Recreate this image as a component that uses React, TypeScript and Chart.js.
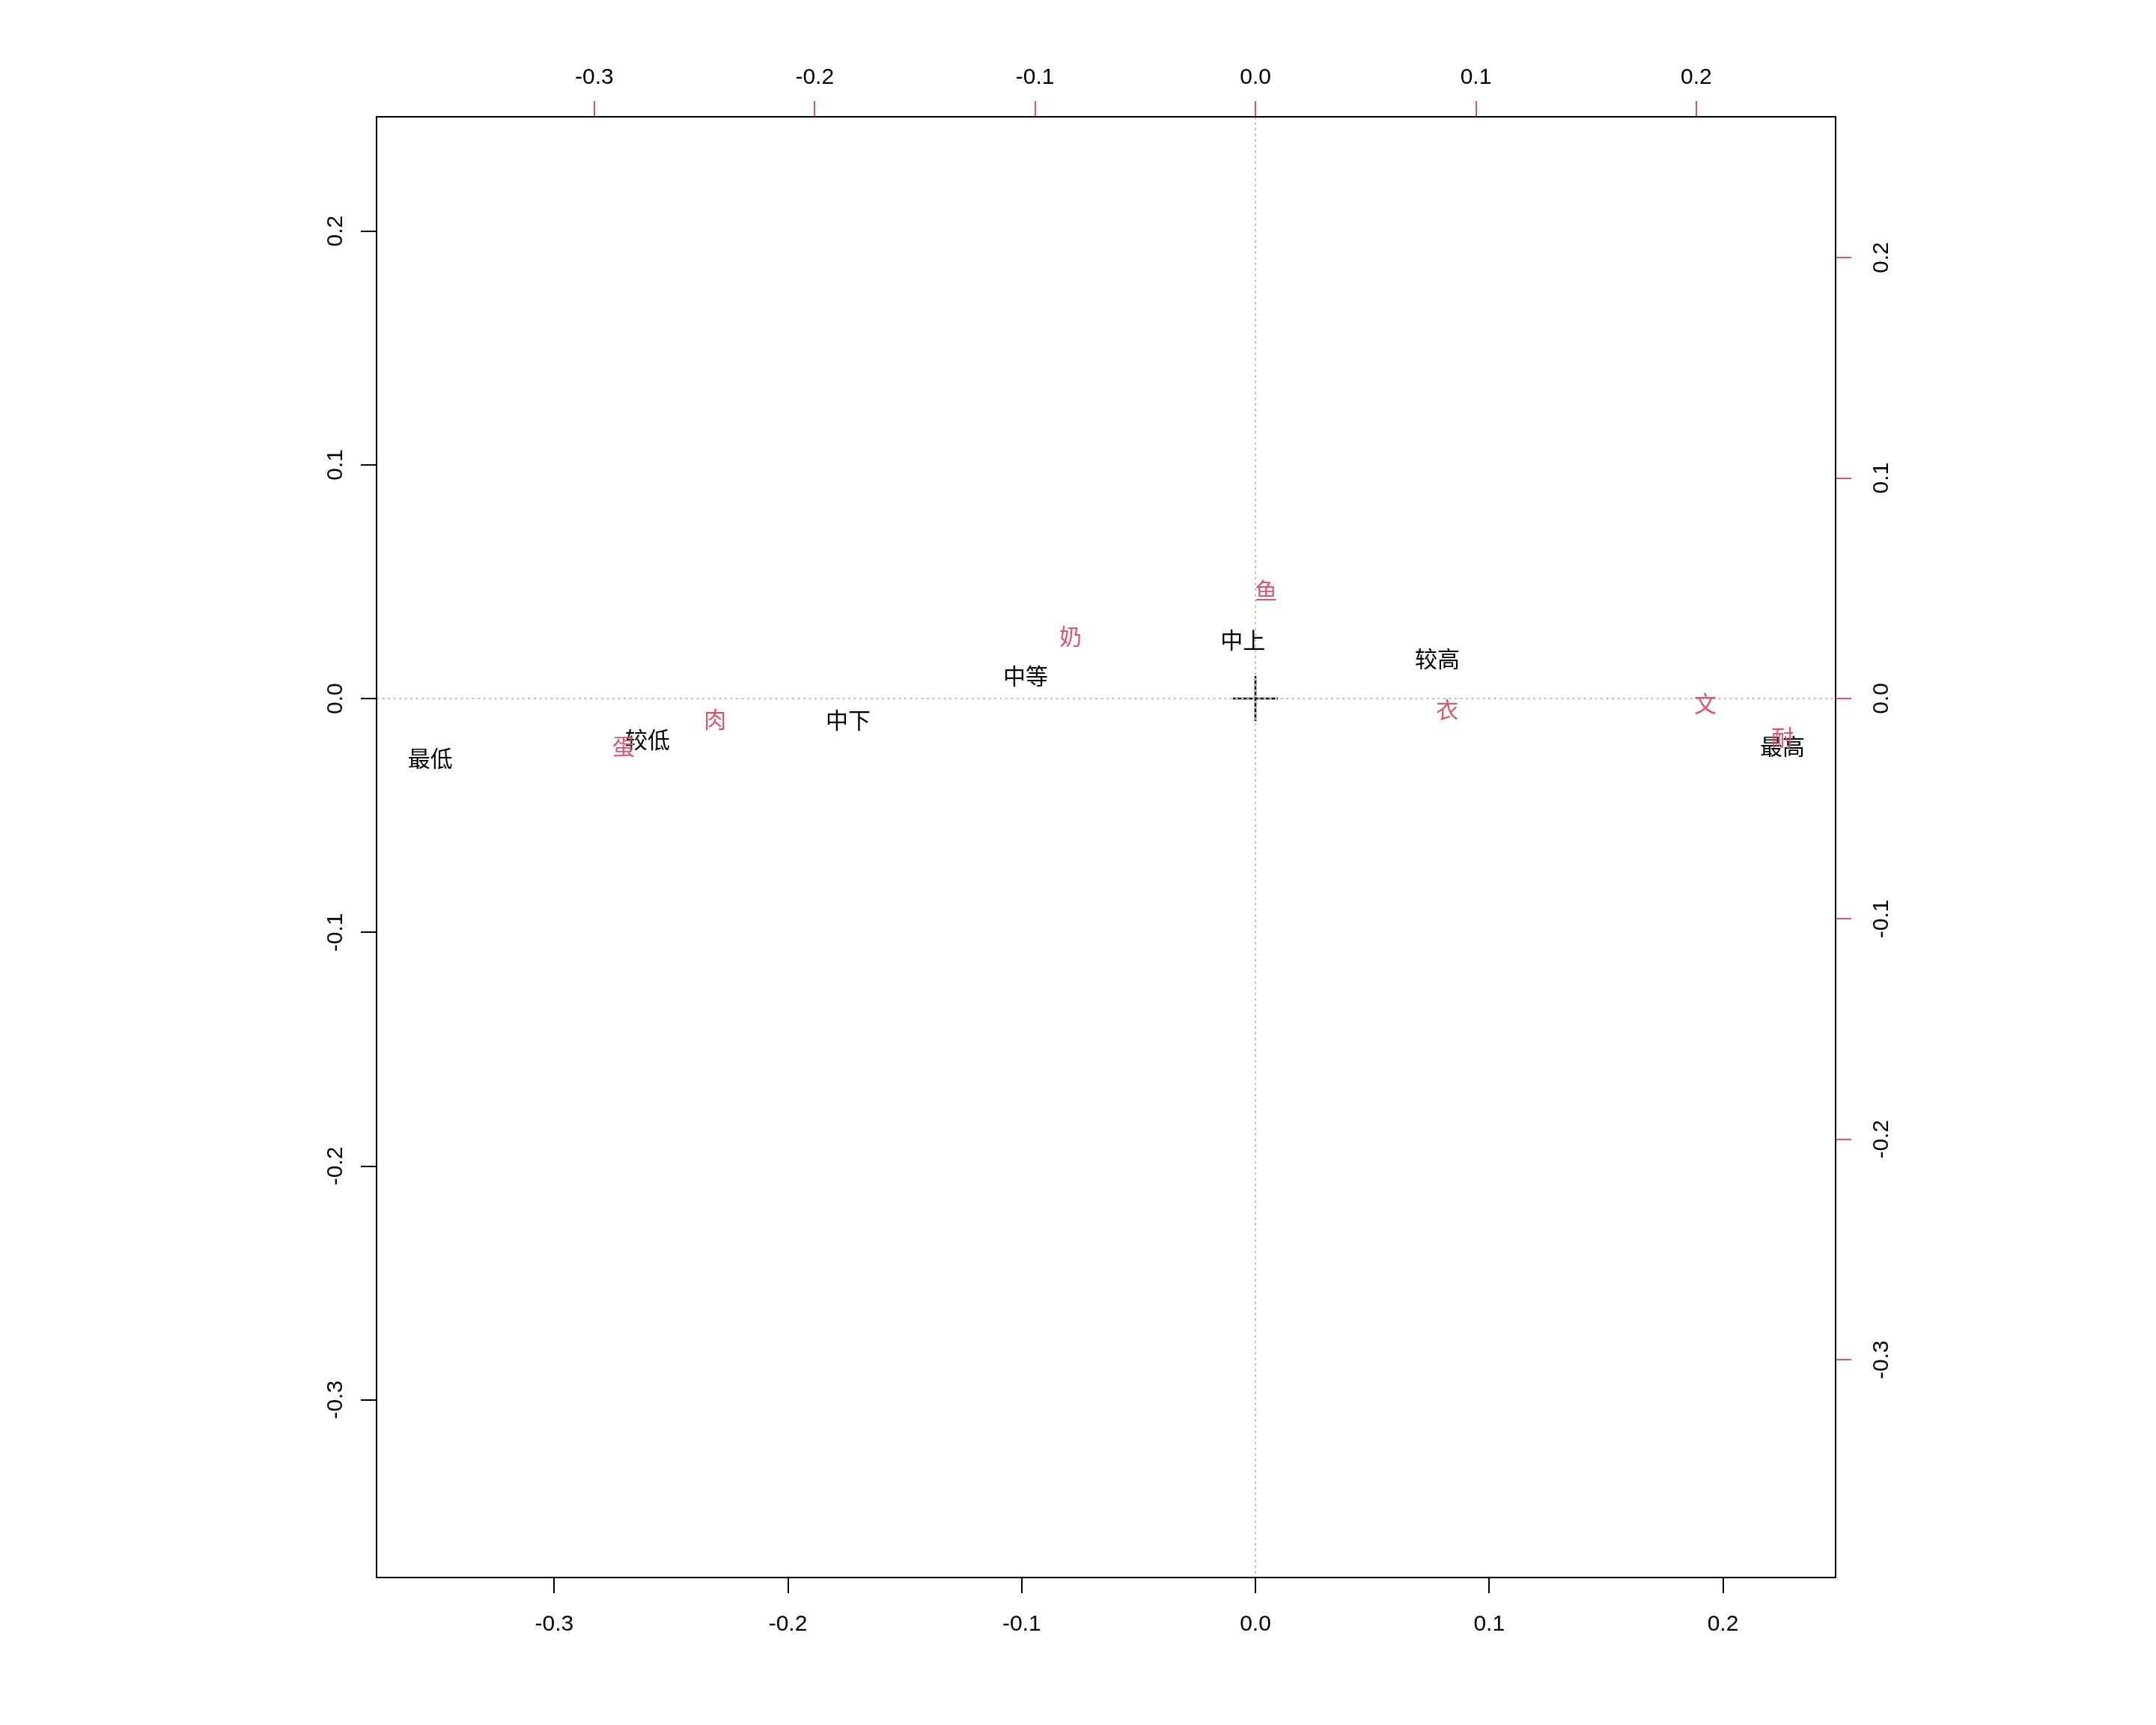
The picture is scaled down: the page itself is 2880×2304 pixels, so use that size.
import { useEffect, useRef } from "react";
import { Chart, registerables } from "chart.js";

Chart.register(...registerables);

// Row points (black) on the bottom/left axes
const rowLabels = ["最低", "较低", "中下", "中等", "中上", "较高", "最高"];
const rowX = [-0.353, -0.2601, -0.1742, -0.0983, -0.0054, 0.0778, 0.2255];
const rowY = [-0.0256, -0.0176, -0.009, 0.0099, 0.0253, 0.017, -0.0205];

// Column points (red) on the top/right axes
const colLabels = ["鱼", "奶", "肉", "蛋", "衣", "文", "耐"];
const colX = [0.0048, -0.0839, -0.2452, -0.2867, 0.087, 0.2041, 0.2391];
const colY = [0.0489, 0.0282, -0.0095, -0.0217, -0.0051, -0.0024, -0.0177];

// Tick values
const tickValues = [-0.3, -0.2, -0.1, 0.0, 0.1, 0.2];

// Axis ranges
const primaryX = [-0.376, 0.2482];
const primaryY = [-0.376, 0.2489];
const secondaryX = [-0.3988, 0.2632];
const secondaryY = [-0.3988, 0.2639];

const RED = "#DF536B";
const TICK_FONT = '30px "Liberation Sans", Arial, sans-serif';
const LABEL_FONT = '30px "Noto Sans CJK SC", sans-serif';

const fmt = (v: number) => (Math.abs(v) < 1e-9 ? "0.0" : v.toFixed(1));

const setTicks = (scale: any) => {
  scale.ticks = tickValues.map((v) => ({ value: v }));
};

const labelPlugin = {
  id: "caLabels",
  afterDatasetsDraw(chart: any) {
    const ctx = chart.ctx;
    const area = chart.chartArea;
    const xs = chart.scales.x;
    const ys = chart.scales.y;
    // reference lines at 0 (gray dotted)
    ctx.save();
    ctx.beginPath();
    ctx.rect(area.left, area.top, area.right - area.left, area.bottom - area.top);
    ctx.clip();
    ctx.strokeStyle = "#BEBEBE";
    ctx.lineWidth = 2;
    ctx.setLineDash([3, 4.5]);
    const x0 = xs.getPixelForValue(0);
    const y0 = ys.getPixelForValue(0);
    ctx.beginPath();
    ctx.moveTo(x0, area.top);
    ctx.lineTo(x0, area.bottom);
    ctx.moveTo(area.left, y0);
    ctx.lineTo(area.right, y0);
    ctx.stroke();
    ctx.setLineDash([]);

    // text labels placed at the library's point elements
    ctx.font = LABEL_FONT;
    ctx.textAlign = "center";
    ctx.textBaseline = "middle";
    const rowMeta = chart.getDatasetMeta(0);
    rowMeta.data.forEach((el: any, i: number) => {
      ctx.fillStyle = "#000000";
      ctx.fillText(rowLabels[i], el.x, el.y);
    });
    const colMeta = chart.getDatasetMeta(1);
    colMeta.data.forEach((el: any, i: number) => {
      ctx.fillStyle = RED;
      ctx.fillText(colLabels[i], el.x, el.y);
    });
    ctx.restore();
  },
  afterDraw(chart: any) {
    const ctx = chart.ctx;
    const area = chart.chartArea;
    ctx.save();
    // box
    ctx.strokeStyle = "#000000";
    ctx.lineWidth = 2;
    ctx.strokeRect(area.left, area.top, area.right - area.left, area.bottom - area.top);

    ctx.fillStyle = "#000000";
    ctx.font = TICK_FONT;
    ctx.textAlign = "center";
    ctx.textBaseline = "alphabetic";
    const off = 10.7;
    const { x, y, x2, y2 } = chart.scales;
    x.ticks.forEach((t: any) => {
      ctx.fillText(fmt(t.value), x.getPixelForValue(t.value), area.bottom + 60 + off);
    });
    x2.ticks.forEach((t: any) => {
      ctx.fillText(fmt(t.value), x2.getPixelForValue(t.value), area.top - 55 + off);
    });
    y.ticks.forEach((t: any) => {
      ctx.save();
      ctx.translate(area.left - 57, y.getPixelForValue(t.value));
      ctx.rotate(-Math.PI / 2);
      ctx.fillText(fmt(t.value), 0, off);
      ctx.restore();
    });
    y2.ticks.forEach((t: any) => {
      ctx.save();
      ctx.translate(area.right + 59, y2.getPixelForValue(t.value));
      ctx.rotate(-Math.PI / 2);
      ctx.fillText(fmt(t.value), 0, off);
      ctx.restore();
    });
    ctx.restore();
  },
};

export default function App() {
  const canvasRef = useRef<HTMLCanvasElement | null>(null);

  useEffect(() => {
    const canvas = canvasRef.current;
    if (!canvas) return;
    const gridOpts = (color: string) => ({
      display: true,
      drawOnChartArea: false,
      drawTicks: true,
      tickLength: 21,
      color,
      lineWidth: 2,
    });
    const chart = new Chart(canvas, {
      type: "scatter",
      data: {
        datasets: [
          {
            label: "rows",
            data: rowX.map((v, i) => ({ x: v, y: rowY[i] })),
            xAxisID: "x",
            yAxisID: "y",
            pointRadius: 0,
            pointHoverRadius: 0,
          },
          {
            label: "cols",
            data: colX.map((v, i) => ({ x: v, y: colY[i] })),
            xAxisID: "x2",
            yAxisID: "y2",
            pointRadius: 0,
            pointHoverRadius: 0,
          },
          {
            label: "origin",
            data: [{ x: 0, y: 0 }],
            xAxisID: "x",
            yAxisID: "y",
            pointStyle: "cross",
            pointRadius: 30,
            borderColor: "#000000",
            backgroundColor: "#000000",
            borderWidth: 2.5,
          },
        ],
      },
      options: {
        animation: false,
        responsive: false,
        maintainAspectRatio: false,
        devicePixelRatio: 1,
        layout: { padding: 0 },
        plugins: {
          legend: { display: false },
          tooltip: { enabled: false },
        },
        scales: {
          x: {
            type: "linear",
            position: "bottom",
            min: primaryX[0],
            max: primaryX[1],
            afterBuildTicks: setTicks,
            afterFit: (s: any) => {
              s.height = 197;
            },
            ticks: { display: false },
            grid: gridOpts("#000000"),
            border: { display: false },
          },
          y: {
            type: "linear",
            position: "left",
            min: primaryY[0],
            max: primaryY[1],
            afterBuildTicks: setTicks,
            afterFit: (s: any) => {
              s.width = 503;
            },
            ticks: { display: false },
            grid: gridOpts("#000000"),
            border: { display: false },
          },
          x2: {
            type: "linear",
            position: "top",
            min: secondaryX[0],
            max: secondaryX[1],
            afterBuildTicks: setTicks,
            afterFit: (s: any) => {
              s.height = 156;
            },
            ticks: { display: false },
            grid: gridOpts(RED),
            border: { display: false },
          },
          y2: {
            type: "linear",
            position: "right",
            min: secondaryY[0],
            max: secondaryY[1],
            afterBuildTicks: setTicks,
            afterFit: (s: any) => {
              s.width = 428;
            },
            ticks: { display: false },
            grid: gridOpts(RED),
            border: { display: false },
          },
        },
      },
      plugins: [labelPlugin],
    } as any);
    return () => chart.destroy();
  }, []);

  return (
    <div
      style={{
        position: "fixed",
        left: 0,
        top: 0,
        width: 2880,
        height: 2304,
        background: "#ffffff",
      }}
    >
      <canvas ref={canvasRef} width={2880} height={2304} />
    </div>
  );
}
